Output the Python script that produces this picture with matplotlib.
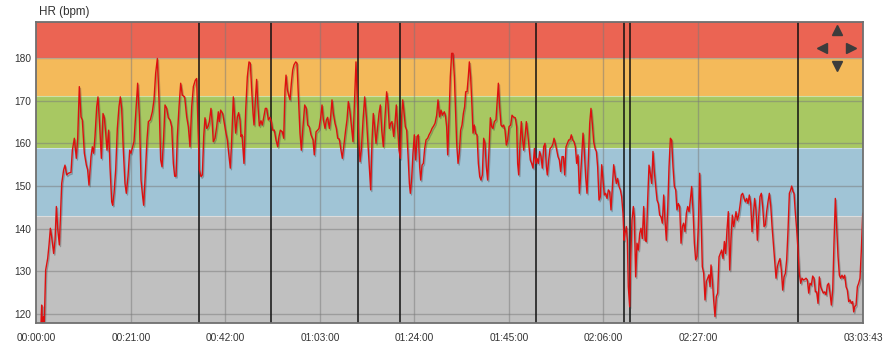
import matplotlib
matplotlib.use("Agg")
import matplotlib.pyplot as plt
import matplotlib.patheffects as pe
import numpy as np

# ---------------- data ----------------
t1 = [60, 69, 78, 96, 104, 122, 149, 167, 185, 202, 229, 247, 265, 282, 305, 336, 362, 380, 402, 425,
      460, 478, 505, 531, 549, 571, 594, 611, 638, 665, 682, 700, 727, 745, 762, 780, 803, 820, 843, 865,
      887, 905, 923, 940, 963, 980, 1003, 1016, 1034, 1056, 1078, 1100, 1118, 1136, 1158, 1180, 1198, 1220, 1243, 1260,
      1283, 1300, 1323, 1349, 1372, 1394, 1416, 1429, 1447, 1474, 1492, 1518, 1545, 1567, 1589, 1612, 1634, 1656, 1674, 1696,
      1714, 1736, 1758, 1781, 1803]
hr1 = [117.8, 122.1, 118, 119.4, 118, 130.3, 133, 136.2, 140.1, 138.1, 134.2, 137.3, 145.2, 140.1, 136.2, 150.6, 153.8, 154.9, 152.6, 153,
       153.2, 158.4, 161.2, 156.5, 161, 173.3, 166.2, 165.5, 157.7, 154.9, 153.8, 150.2, 156.9, 159.2, 157.7, 161.6, 168.6, 170.9, 163.9, 156.5,
       167, 166, 162.4, 158.4, 163.1, 154.5, 146.3, 145.5, 148.3, 153.8, 163.5, 168.6, 170.9, 168.2, 158.4, 150.6, 148.3, 152.2, 158.4, 157.7,
       159.2, 160.4, 167, 174.1, 166.2, 151.4, 147.5, 145.5, 151.4, 161, 165.1, 165.5, 167.4, 170.2, 176.4, 179.9, 170.2, 156.1, 154.5, 161.6,
       169, 168.2, 166, 165.5, 163.9]

t2 = [1825, 1843, 1861, 1878, 1901, 1923, 1945, 1976, 2003, 2025, 2047, 2070, 2092, 2118, 2136, 2154, 2172, 2194, 2212, 2230,
      2247, 2270, 2287, 2305, 2327, 2341, 2358, 2381, 2403, 2425, 2438, 2456, 2483, 2505, 2527, 2545, 2563, 2585, 2603, 2625,
      2643, 2656, 2679, 2696, 2714, 2727, 2741, 2767, 2790, 2812, 2834, 2852, 2870, 2888, 2901, 2919, 2936, 2954, 2972, 2994,
      3012, 3030, 3052, 3070, 3092, 3114, 3132, 3150, 3172, 3194, 3217, 3234, 3252, 3279, 3297, 3314, 3328, 3346, 3363, 3381,
      3399, 3417, 3434, 3457, 3474, 3497, 3514, 3532, 3554, 3577, 3599, 3617, 3639]
hr2 = [155.3, 152.3, 152.3, 161.6, 168.6, 174.1, 171.3, 170.9, 166.2, 163.9, 159.2, 168.6, 173.3, 174.8, 175.2, 163.9, 153.8, 152.2, 152.6, 161.6,
       166, 163.5, 163.9, 165.1, 168.2, 165.5, 160.4, 161.2, 163.9, 167.4, 165.1, 167.8, 167, 164.7, 162.4, 160.8, 157.7, 154.2, 160.8, 170.9,
       166.2, 162.4, 166.2, 167.2, 165.5, 161.6, 162, 155.3, 167.8, 175.6, 179.1, 178.8, 172.5, 167, 164.3, 170.2, 175, 168.6, 164.1, 165.3,
       164.3, 166, 168.2, 168.2, 165.5, 166.1, 165.1, 163.1, 163.1, 160.8, 159.2, 161.6, 163.1, 162.7, 161.2, 172.5, 176, 172.5, 171.3, 170.2,
       174.1, 177.2, 178.4, 179.1, 178.8, 169.4, 162.4, 158.4, 163.9, 169, 168.2, 164.3, 163.9]

t3 = [3661, 3688, 3705, 3728, 3750, 3768, 3790, 3808, 3826, 3848, 3866, 3883, 3906, 3923, 3941, 3959, 3981, 3999, 4017, 4039,
      4061, 4079, 4097, 4123, 4141, 4159, 4181, 4203, 4221, 4239, 4261, 4279, 4297, 4315, 4332, 4355, 4377, 4399, 4417, 4439,
      4457, 4475, 4492, 4510, 4528, 4550, 4568, 4586, 4604, 4626, 4648, 4670, 4688, 4706, 4724, 4741, 4764, 4781, 4799, 4817,
      4835, 4853, 4870, 4884, 4901, 4919, 4937, 4955, 4973, 4986, 5004, 5021, 5039, 5057, 5075, 5093, 5110, 5124, 5142, 5159,
      5177, 5195, 5217, 5235, 5257, 5275, 5297, 5315, 5337, 5355, 5377, 5395, 5413, 5439]
hr3 = [162, 160.8, 157.3, 162.7, 163.1, 163.5, 166, 169, 165.5, 163.5, 165.5, 166.1, 163.5, 166.2, 170.2, 167, 164.7, 163.5, 161.2, 161,
       158.4, 156.5, 159.2, 163.1, 165.5, 169.8, 167.4, 163.5, 160.4, 168.6, 179.1, 170.2, 161.6, 155.7, 158.4, 165.5, 170.9, 166.2, 160.8, 154.5,
       149.1, 160.8, 167, 163.9, 160, 163.9, 167, 169, 163.1, 159.2, 166.2, 172.1, 169.4, 163.5, 164.7, 165.1, 161.6, 164.7, 169, 163.9,
       158.4, 156.5, 166.2, 170.2, 167.4, 163.9, 163.1, 157.3, 150.6, 148.3, 151.8, 157.7, 162, 156.1, 161.6, 162, 154.5, 151.4, 154.9, 155.3,
       158.8, 160.8, 161.2, 162, 162.7, 163.5, 164.1, 164.7, 166.6, 170.2, 166.2, 167.8, 166.6, 167.4]

t4 = [5453, 5470, 5484, 5502, 5519, 5537, 5555, 5573, 5590, 5604, 5622, 5639, 5657, 5675, 5693, 5710, 5724, 5742, 5759, 5773,
      5790, 5808, 5822, 5839, 5857, 5875, 5893, 5911, 5928, 5946, 5964, 5982, 5999, 6017, 6035, 6053, 6071, 6088, 6106, 6128,
      6146, 6160, 6177, 6195, 6213, 6231, 6248, 6266, 6284, 6302, 6324, 6342, 6360, 6386, 6404, 6417, 6431, 6449, 6466, 6484,
      6497, 6515, 6533, 6551, 6569, 6586, 6604, 6622, 6640, 6658, 6675, 6693, 6711, 6729, 6746, 6764, 6782, 6800, 6813, 6831,
      6849, 6871, 6889, 6902, 6920, 6938, 6955, 6973, 6991, 7009, 7027, 7044, 7062, 7080, 7098, 7115, 7133, 7151, 7169, 7187,
      7204, 7222, 7240]
hr4 = [166.6, 163.9, 157.3, 166.2, 175.6, 181.1, 181.1, 175.6, 167, 160, 155.3, 157.7, 163.1, 164.3, 167, 168.6, 172.1, 172.1, 175.6, 179.1,
       175.6, 168.6, 162.4, 164.3, 162.3, 162, 155.3, 152.2, 151.4, 152.6, 161.2, 160, 154.5, 151.4, 158.4, 166, 163.9, 163.5, 165.1, 165.5,
       170.2, 174.1, 168.6, 164.3, 163.9, 164.3, 163.1, 159.6, 160.8, 163.9, 164.3, 166.6, 166.2, 166, 163.9, 155.3, 152.6, 160, 165.1, 160.8,
       158.4, 161.6, 165.1, 162.4, 159.2, 156.1, 155.3, 154.2, 158.8, 155.3, 156.5, 155.3, 158.1, 156.9, 154.2, 159.2, 160, 154.5, 152.6, 156.1,
       158.8, 159.2, 160, 161.2, 160, 158.4, 156.9, 156.1, 153.4, 156.9, 156.9, 152.6, 159.2, 160, 160.8, 160.8, 162, 160.8, 160.4, 159.2,
       155.3, 157.3, 148.3]

t5 = [7253, 7271, 7289, 7306, 7324, 7342, 7360, 7378, 7395, 7413, 7431, 7449, 7467, 7484, 7502, 7520, 7538, 7555, 7573, 7591,
      7609, 7627, 7644, 7662, 7680, 7698, 7716, 7733, 7751, 7769, 7787, 7804, 7822, 7836, 7849, 7867, 7880, 7893, 7911, 7924,
      7942, 7960, 7973, 7991, 8009, 8027, 8045, 8062, 8080, 8098, 8116, 8133, 8151, 8169, 8187, 8205, 8222, 8240, 8258, 8276,
      8293, 8311, 8329, 8347, 8365, 8382, 8400, 8418, 8436, 8454, 8471, 8489, 8507, 8525, 8542, 8560, 8578, 8596, 8614, 8631,
      8649, 8667, 8685, 8703, 8720, 8738, 8756, 8774, 8791, 8809, 8827, 8845, 8863, 8880, 8898, 8916, 8934, 8952, 8969, 8983,
      8996, 9014, 9031, 9049, 9067, 9085, 9103, 9120, 9138, 9156, 9174]
hr5 = [151.4, 156.9, 162.4, 158.4, 152.2, 148.3, 156.1, 164.7, 168.2, 164.7, 160.4, 158.8, 158.1, 154.5, 146.7, 147.5, 155, 151.4, 147.9, 148.3,
       147.1, 149.1, 148.7, 144.4, 149.9, 155, 152.6, 150.6, 151.8, 149.9, 149.1, 147.5, 143.6, 137.3, 138.9, 140.5, 137.3, 126.4, 121.7, 132.7,
       142, 145.2, 142.8, 128.7, 136.6, 135, 138.9, 140.1, 137.7, 145.2, 137.3, 137, 146.7, 154.9, 152.9, 150.6, 158.1, 153.4, 149.9, 146.7,
       145.9, 143.2, 142.8, 141.3, 147.9, 142, 137.3, 144.4, 154.5, 161.2, 160.8, 154.5, 149.9, 149.1, 144.4, 145.9, 145.2, 136.6, 140.5, 141.3,
       139.3, 143.6, 145.2, 144, 146.7, 149.9, 144.4, 136.6, 132.7, 133.5, 140.5, 153, 142.8, 131.1, 129.6, 123.3, 127.6, 128.4, 129.2, 126.4,
       131.5, 128, 123.3, 119.4, 124.1, 124.9, 133.4, 134.2, 135, 133, 137]

t6 = [9191, 9209, 9227, 9245, 9263, 9280, 9298, 9316, 9329, 9347, 9365, 9383, 9400, 9418, 9436, 9454, 9472, 9489, 9507, 9525,
      9543, 9561, 9578, 9596, 9614, 9632, 9649, 9667, 9685, 9703, 9721, 9738, 9756, 9774, 9792, 9810, 9827, 9845, 9863, 9881,
      9898, 9916, 9934, 9952, 9970, 9987, 10005, 10023, 10041, 10059, 10072, 10090, 10103, 10121, 10139, 10156, 10174, 10192, 10210, 10227,
      10245, 10263, 10281, 10299, 10316, 10334, 10352, 10370, 10388, 10405, 10423, 10441, 10459, 10476, 10494, 10512, 10530, 10548, 10565, 10583,
      10601, 10619, 10636, 10654, 10672, 10690, 10708, 10725, 10743, 10761, 10779, 10797, 10814, 10832, 10850, 10868, 10885, 10899, 10912, 10930,
      10948, 10965, 10983, 11001, 11019]
hr6 = [134.2, 139.7, 144, 130.3, 137.7, 143.2, 140.5, 142.4, 144, 142, 143.2, 145.5, 147.9, 148.3, 147.1, 146.3, 147.1, 145.9, 147.9, 145.9,
       139.3, 143.2, 147.1, 144.4, 137.3, 142.8, 147.5, 148.3, 145.2, 140.5, 140.9, 144, 146.3, 148.3, 145.5, 140.5, 136.6, 132.7, 128.4, 131.1,
       132.2, 133, 130.3, 125.6, 128.7, 129.5, 132.7, 139.7, 148.3, 149.1, 150, 148.7, 148.3, 143.6, 139.7, 135, 129.5, 127.2, 128.4, 128,
       128.1, 128.4, 128, 124.9, 127.2, 126.8, 128.9, 128.4, 125.2, 125.2, 122.5, 128.7, 126.4, 125.6, 124.9, 125.2, 124.5, 126.8, 127.2, 124.9,
       122.1, 125.6, 136.6, 147.1, 140.5, 133.5, 129.1, 128.4, 129.1, 128.4, 129.1, 126.4, 125.6, 122.9, 123.3, 122.5, 122.9, 120.5, 121.7, 122.1,
       126.4, 127.2, 128.4, 135, 143.6]

lap_times = [2167, 3132, 4284, 4848, 6666, 7835, 7919, 10160]
zone_edges = [143, 159, 171, 180]
zone_colors = ["#C0C0C0", "#A0C4D6", "#A8C862", "#F4BA5A", "#EB6453"]
x_ticks = [0, 1260, 2520, 3780, 5040, 6300, 7560, 8820, 11023]
x_labels = ["00:00:00", "00:21:00", "00:42:00", "01:03:00", "01:24:00",
            "01:45:00", "02:06:00", "02:27:00", "03:03:43"]
y_ticks = [120, 130, 140, 150, 160, 170, 180]

times = t1 + t2 + t3 + t4 + t5 + t6
hr = hr1 + hr2 + hr3 + hr4 + hr5 + hr6

# ---------------- figure ----------------
plt.rcParams["font.family"] = ["Liberation Sans", "DejaVu Sans"]
fig = plt.figure(figsize=(8.95, 3.47), dpi=100)
ax = fig.add_axes([36.5 / 895, 1 - 323 / 347, (863 - 36.5) / 895, (323 - 22) / 347])

ymin, ymax = 117.9, 188.45
xmin, xmax = 0, 11023
ax.set_xlim(xmin, xmax)
ax.set_ylim(ymin, ymax)

bounds = [ymin] + zone_edges + [ymax]
for i, c in enumerate(zone_colors):
    ax.axhspan(bounds[i], bounds[i + 1], color=c, zorder=0, lw=0)
for e in zone_edges:
    ax.axhline(e, color="white", alpha=0.45, lw=0.8, zorder=0.5)

# grid
for yt in y_ticks:
    ax.axhline(yt, color="#7a7a7a", alpha=0.5, lw=1.0, zorder=1)
for xt in x_ticks[1:-1]:
    ax.axvline(xt, color="#7a7a7a", alpha=0.5, lw=1.0, zorder=1)

# laps
for lt in lap_times:
    ax.axvline(lt, color="#111111", lw=1.1, zorder=2)

ax.plot(times, hr, color="#DD1010", lw=1.0, zorder=3,
        path_effects=[pe.SimpleLineShadow(offset=(0.8, -1.2), shadow_color="#404040", alpha=0.35),
                      pe.Normal()])

ax.set_xticks(x_ticks)
ax.set_xticklabels(x_labels)
ax.set_yticks(y_ticks)
ax.tick_params(axis="both", length=0, labelsize=7.3, colors="#333333")
ax.tick_params(axis="x", pad=7)
ax.tick_params(axis="y", pad=4)

for s in ax.spines.values():
    s.set_color("#707070")
    s.set_linewidth(1.3)
    s.set_zorder(4)

fig.text(39 / 895, 1 - 12 / 347, "HR (bpm)", fontsize=8.4, color="#333333", va="center", ha="left")

# navigation arrows (UI decoration)
nav = [(0.968, 0.973, "^"), (0.950, 0.915, "<"), (0.986, 0.915, ">"), (0.968, 0.855, "v")]
for xa, ya, m in nav:
    ax.plot([xa], [ya], marker=m, markersize=7, color="#3c3c3c", transform=ax.transAxes,
            zorder=5, clip_on=False, linestyle="none")

fig.savefig("out.png", dpi=100)
